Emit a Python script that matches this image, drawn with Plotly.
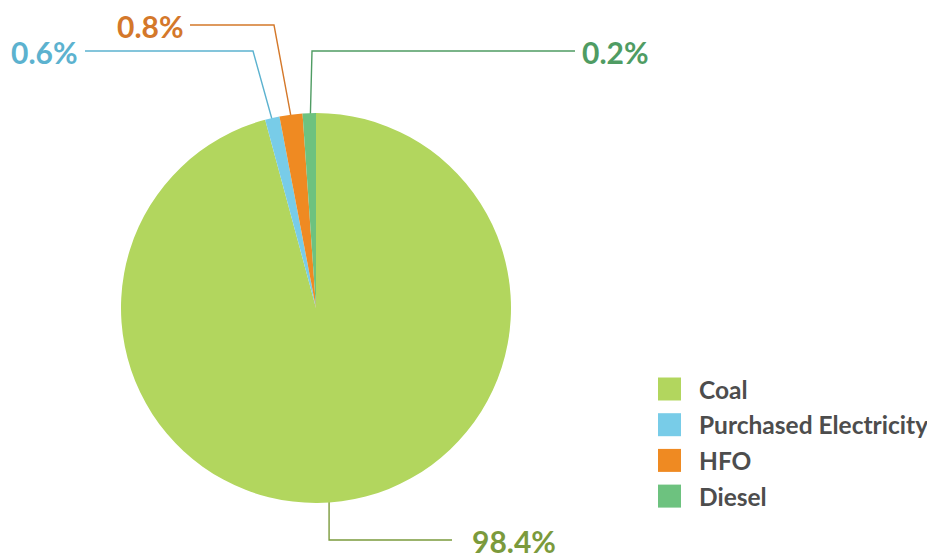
import math
import plotly.graph_objects as go

# ---- data ----
categories = ["Coal", "Purchased Electricity", "HFO", "Diesel"]
slice_values = [95.8, 1.2, 1.9, 1.1]          # visual slice sizes
label_texts = ["98.4%", "0.6%", "0.8%", "0.2%"]  # printed percentage labels
slice_colors = ["#b2d65e", "#78cce8", "#ef8a22", "#6dc27f"]
label_colors = ["#7b9a3c", "#5cb2cf", "#d4782a", "#4f9c63"]
dot_colors = ["#6b7f38", "#5b9fb6", "#c5702a", "#4e8f5c"]

# ---- layout params (screen pixels) ----
W, H = 935, 558
OFF = 8  # page body margin
CX, CY, R = 316, 308, 195
leader = [
    dict(rf=0.51, ex=None, ey=540, lx=452, tx=471, anchor="left"),
    dict(rf=0.93, ex=253, ey=51, lx=85, tx=79, anchor="right"),
    dict(rf=0.97, ex=274, ey=25, lx=190, tx=185, anchor="right"),
    dict(rf=0.90, ex=312, ey=51, lx=575, tx=581, anchor="left"),
]

fig = go.Figure()
fig.add_trace(go.Pie(
    labels=categories, values=slice_values, sort=False, direction="clockwise",
    rotation=0, marker=dict(colors=slice_colors, line=dict(width=0)),
    textinfo="none", hoverinfo="none", showlegend=False,
    domain=dict(x=[(CX - OFF - R) / W, (CX - OFF + R) / W],
                y=[(H - (CY - OFF) - R) / H, (H - (CY - OFF) + R) / H]),
))

total = sum(slice_values)
cum = 0.0
annotations = []
for i, v in enumerate(slice_values):
    mid = (cum + v / 2) / total * 2 * math.pi
    cum += v
    L = leader[i]
    dx = CX + L["rf"] * R * math.sin(mid)
    dy = CY - L["rf"] * R * math.cos(mid)
    ex = dx if L["ex"] is None else L["ex"]
    fig.add_trace(go.Scatter(
        x=[dx, ex, L["lx"]], y=[dy, L["ey"], L["ey"]], mode="lines",
        line=dict(color=label_colors[i], width=1.4), hoverinfo="skip", showlegend=False,
    ))
    fig.add_trace(go.Scatter(
        x=[dx], y=[dy], mode="markers", marker=dict(color=dot_colors[i], size=7),
        hoverinfo="skip", showlegend=False,
    ))
    annotations.append(dict(
        x=L["tx"], y=L["ey"] + 1, xref="x", yref="y", text=label_texts[i], showarrow=False,
        xanchor=L["anchor"], yanchor="middle", borderpad=0,
        font=dict(family="Lato", size=30, color=label_colors[i], weight=700),
    ))

# custom legend
shapes = []
leg_y0, leg_dy = 389, 35.7
for i, c in enumerate(categories):
    y = leg_y0 + i * leg_dy
    shapes.append(dict(type="rect", xref="x", yref="y", x0=658, x1=681, y0=y - 11.5, y1=y + 11.5,
                       fillcolor=slice_colors[i], line=dict(width=0)))
    annotations.append(dict(
        x=697, y=y, xref="x", yref="y", text=c, showarrow=False, xanchor="left", yanchor="middle",
        font=dict(family="Lato", size=24.5, color="#4d4d4d", weight=700),
    ))

fig.update_layout(
    width=W, height=H, margin=dict(l=0, r=0, t=0, b=0),
    paper_bgcolor="white", plot_bgcolor="rgba(0,0,0,0)",
    xaxis=dict(range=[OFF, W + OFF], visible=False, fixedrange=True),
    yaxis=dict(range=[H + OFF, OFF], visible=False, fixedrange=True),
    shapes=shapes, annotations=annotations, hovermode=False,
)
fig.write_html("out.html")
